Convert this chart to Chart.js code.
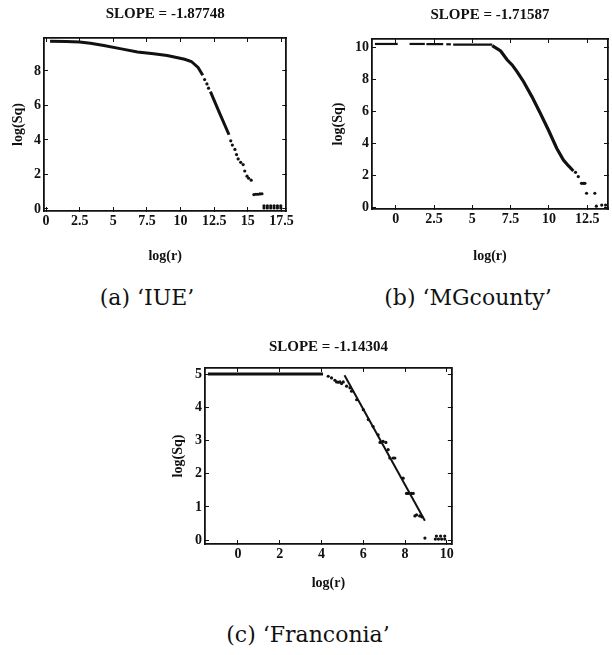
<!DOCTYPE html>
<html lang="en">
<head>
<meta charset="UTF-8">
<title>log(Sq) vs log(r)</title>
<style>
  body { margin: 0; background: #fff; }
  .page { position: relative; width: 612px; height: 655px; overflow: hidden; }
  canvas { position: absolute; }
  .caption {
    position: absolute; width: 260px; text-align: center;
    font-family: "DejaVu Serif", "Liberation Serif", serif; font-size: 22px; color: #111;
  }
</style>
<script src="https://cdn.jsdelivr.net/npm/chart.js"></script>
</head>
<body>
<div class="page">
  <canvas id="chartIUE" width="300" height="270" style="left:0;top:0"></canvas>
  <canvas id="chartMG" width="302" height="270" style="left:310px;top:0"></canvas>
  <canvas id="chartFR" width="310" height="265" style="left:150px;top:330px"></canvas>
  <div class="caption" style="left:17px;top:285px">(a) ‘IUE’</div>
  <div class="caption" style="left:338px;top:285px">(b) ‘MGcounty’</div>
  <div class="caption" style="left:178px;top:622px">(c) ‘Franconia’</div>
</div>
<script>
// (a) IUE - dense parts drawn as a thick line, sparse parts as dots
const iueCurve1X = [0.3, 1.5, 2.5, 3.3, 4.3, 5.6, 6.8, 8.0, 9.0, 9.7, 10.3, 10.8, 11.3, 11.65];
const iueCurve1Y = [9.72, 9.7, 9.68, 9.6, 9.47, 9.28, 9.1, 9.0, 8.9, 8.78, 8.68, 8.55, 8.2, 7.75];
const iueCurve2X = [12.22, 12.9, 13.6];
const iueCurve2Y = [6.8, 5.55, 4.3];
const iueDotsX = [11.79, 11.96, 12.08, 13.73, 13.85, 14.04, 14.16, 14.28, 14.47, 14.65, 14.77, 14.94, 15.06, 15.25,
  15.45, 15.6, 15.75, 15.9, 16.05,
  16.2, 16.45, 16.7, 16.95, 17.2, 17.45, 16.2, 16.45, 16.7, 16.95, 17.2, 17.45];
const iueDotsY = [7.5, 7.25, 7.0, 3.95, 3.7, 3.45, 3.15, 2.9, 2.7, 2.57, 2.2, 1.9, 1.78, 1.67,
  0.83, 0.85, 0.85, 0.87, 0.88,
  0.18, 0.18, 0.18, 0.18, 0.18, 0.18, 0.06, 0.06, 0.06, 0.06, 0.06, 0.06];

// (b) MGcounty
const mgFlatSegments = [[-1.36, 0.13], [0.9, 1.9], [2.0, 3.1], [3.3, 3.6], [3.75, 6.3]];
const mgFlatY = [10.19, 10.19, 10.18, 10.17, 10.15];
const mgCurveX = [6.3, 6.85, 7.27, 7.6, 7.92, 8.35, 8.89, 9.44, 9.97, 10.51, 10.95, 11.27, 11.6];
const mgCurveY = [10.08, 9.75, 9.2, 8.88, 8.46, 7.83, 6.9, 5.86, 4.81, 3.67, 2.94, 2.58, 2.25];
const mgDotsX = [11.74, 11.92, 12.13, 12.25, 12.35, 12.46, 13.0, 13.1, 13.45, 13.7];
const mgDotsY = [2.17, 1.9, 1.48, 1.48, 1.48, 0.86, 0.86, 0.05, 0.12, 0.12];

// (c) Franconia
const frFlatX = [-1.44, 4.07];
const frFlatY = [5.02, 5.02];
const frDotsX = [4.32, 4.48, 4.64, 4.72, 4.8, 4.88, 4.96, 5.04, 5.2, 5.36, 5.44, 5.68, 6.0, 6.24, 6.47, 6.71,
  6.8, 6.95, 7.08, 7.19, 7.27, 7.43, 7.51, 7.91, 8.07, 8.15, 8.3, 8.39, 8.47, 8.55, 8.7, 8.8,
  8.95, 9.45, 9.6, 9.75, 9.9, 9.5, 9.7, 9.9];
const frDotsY = [4.95, 4.9, 4.83, 4.78, 4.77, 4.78, 4.73, 4.78, 4.65, 4.6, 4.5, 4.24, 3.94, 3.64, 3.43, 3.18,
  2.95, 2.98, 2.95, 2.73, 2.48, 2.48, 2.48, 1.87, 1.41, 1.41, 1.41, 1.41, 0.73, 0.76, 0.73, 0.7,
  0.06, 0.03, 0.03, 0.03, 0.03, 0.12, 0.12, 0.12];
const frFitX = [5.1, 8.95];
const frFitY = [4.98, 0.58];

const slopes = ['SLOPE = -1.87748', 'SLOPE = -1.71587', 'SLOPE = -1.14304'];

function pts(xs, ys) {
  return xs.map((x, i) => ({ x: x, y: ys[i] }));
}

function lineSet(data, width) {
  return { data: data, showLine: true, borderColor: '#111', borderWidth: width, pointRadius: 0, tension: 0 };
}
function dotSet(data) {
  return { data: data, showLine: false, backgroundColor: '#111', borderWidth: 0, pointRadius: 1.6 };
}

const tickFont = { family: 'Liberation Serif', size: 14, weight: 'bold' };
const labelFont = { family: 'Liberation Serif', size: 14, weight: 'bold' };
const frameBorder = { display: true, color: '#111', width: 1.8 };
// negative tick length puts the small tick marks inside the frame
const frameGrid = { display: true, drawOnChartArea: false, drawTicks: true, tickLength: -4, color: '#111', lineWidth: 1 };

function makeChart(id, datasets, cfg) {
  return new Chart(document.getElementById(id), {
    type: 'scatter',
    data: { datasets: datasets },
    options: {
      responsive: false,
      animation: false,
      devicePixelRatio: 1,
      layout: { padding: { left: 0, right: cfg.padRight, top: 0, bottom: 0 } },
      plugins: {
        legend: { display: false },
        tooltip: { enabled: false },
        title: {
          display: true, text: cfg.title, fullSize: false, color: '#111',
          font: { family: 'Liberation Serif', size: 15, weight: 'bold' },
          padding: { top: cfg.titleTop, bottom: cfg.titleBottom }
        }
      },
      scales: {
        x: {
          type: 'linear', position: 'bottom', min: cfg.xMin, max: cfg.xMax,
          grid: frameGrid, border: frameBorder,
          ticks: { stepSize: cfg.xStep, includeBounds: false, maxRotation: 0, autoSkip: false,
                   color: '#111', font: tickFont, padding: 6 },
          title: { display: true, text: 'log(r)', color: '#111', font: labelFont,
                   padding: { top: 0, bottom: cfg.xTitlePad } },
          afterFit(s) { s.height = cfg.xHeight; }
        },
        y: {
          type: 'linear', position: 'left', min: cfg.yMin, max: cfg.yMax,
          grid: frameGrid, border: frameBorder,
          ticks: { stepSize: cfg.yStep, includeBounds: false, color: '#111', font: tickFont, padding: 7 },
          title: { display: true, text: 'log(Sq)', color: '#111', font: labelFont,
                   padding: { top: cfg.yTitlePad, bottom: 0 } },
          afterFit(s) { s.width = cfg.yWidth; }
        },
        x2: {
          type: 'linear', axis: 'x', position: 'top', min: cfg.xMin, max: cfg.xMax,
          grid: frameGrid, border: frameBorder,
          ticks: { display: false, stepSize: cfg.xStep, includeBounds: false },
          afterFit(s) { s.height = 0; }
        },
        y2: {
          type: 'linear', axis: 'y', position: 'right', min: cfg.yMin, max: cfg.yMax,
          grid: frameGrid, border: frameBorder,
          ticks: { display: false, stepSize: cfg.yStep, includeBounds: false },
          afterFit(s) { s.width = 0; }
        }
      }
    }
  });
}

makeChart('chartIUE', [
  lineSet(pts(iueCurve1X, iueCurve1Y), 3),
  lineSet(pts(iueCurve2X, iueCurve2Y), 3),
  dotSet(pts(iueDotsX, iueDotsY))
], {
  title: slopes[0], titleTop: 5, titleBottom: 15, padRight: 8,
  xMin: -0.15, xMax: 17.86, xStep: 2.5, yMin: -0.12, yMax: 9.91, yStep: 2,
  xHeight: 59, yWidth: 44, xTitlePad: 5.6, yTitlePad: 9.6
});

const mgSets = mgFlatSegments.map((seg, i) => lineSet(pts(seg, [mgFlatY[i], mgFlatY[i]]), 2.2));
mgSets.push(lineSet(pts(mgCurveX, mgCurveY), 3.2));
mgSets.push(dotSet(pts(mgDotsX, mgDotsY)));
makeChart('chartMG', mgSets, {
  title: slopes[1], titleTop: 6, titleBottom: 15, padRight: 2,
  xMin: -1.55, xMax: 13.86, xStep: 2.5, yMin: -0.125, yMax: 10.5, yStep: 2,
  xHeight: 61, yWidth: 62, xTitlePad: 5.6, yTitlePad: 19.6
});

makeChart('chartFR', [
  lineSet(pts(frFlatX, frFlatY), 3),
  lineSet(pts(frFitX, frFitY), 2),
  dotSet(pts(frDotsX, frDotsY))
], {
  title: slopes[2], titleTop: 8.6, titleBottom: 11.4, padRight: 8,
  xMin: -1.58, xMax: 10.24, xStep: 2, yMin: -0.12, yMax: 5.2, yStep: 1,
  xHeight: 51, yWidth: 55, xTitlePad: 3.6, yTitlePad: 19.6
});
</script>
</body>
</html>
